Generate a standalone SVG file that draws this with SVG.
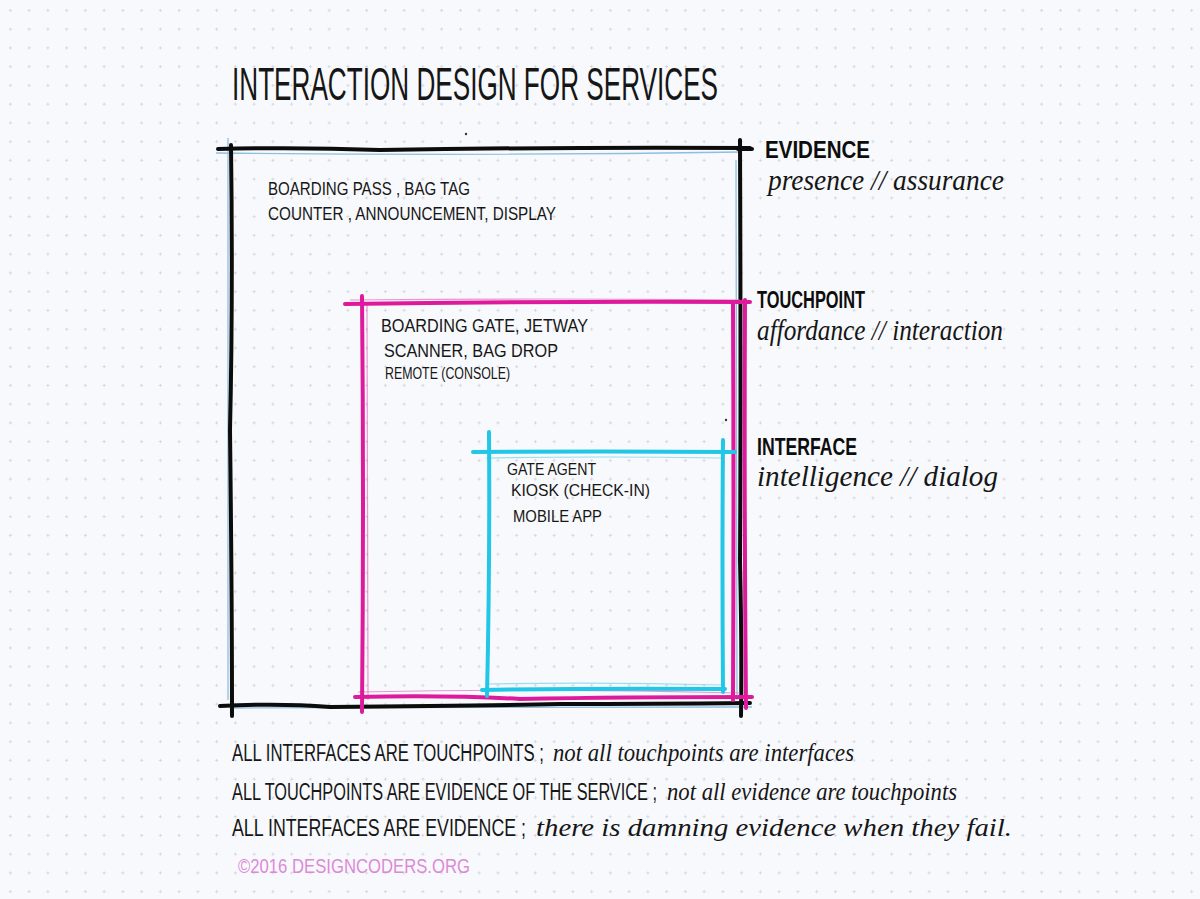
<svg xmlns="http://www.w3.org/2000/svg" width="1200" height="899" viewBox="0 0 1200 899">
<defs>
<pattern id="dots" x="1" y="1" width="18.75" height="18.75" patternUnits="userSpaceOnUse">
<path d="M9.4 7.8v3.2M7.8 9.4h3.2" stroke="#cfd3da" stroke-width="0.8"/>
</pattern>
<style>
.cap{font-family:"Liberation Sans",Arial,sans-serif;fill:#161616}
.scr{font-family:"Liberation Serif","Times New Roman",serif;font-style:italic;fill:#161616}
.lbl{font-family:"Liberation Sans",Arial,sans-serif;font-weight:bold;fill:#0d0d0d;font-size:23px}
.blk{fill:none;stroke:#0c0c0c;stroke-width:4;stroke-linecap:round}
.mag{fill:none;stroke:#de1a9c;stroke-width:4;stroke-linecap:round}
.magl{fill:none;stroke:#e36cc0;stroke-width:1.2;opacity:0.7}
.cyn{fill:none;stroke:#22c6e6;stroke-width:4;stroke-linecap:round}
.cynl{fill:none;stroke:#7fd8ec;stroke-width:1.2;opacity:0.8}
.blu{fill:none;stroke:#8dbfe0;stroke-width:1.3}
</style>
</defs>
<rect width="1200" height="899" fill="#f8f9fc"/>
<rect width="1200" height="899" fill="url(#dots)"/>

<text class="cap" x="232" y="100" font-size="46" textLength="486" lengthAdjust="spacingAndGlyphs">INTERACTION DESIGN FOR SERVICES</text>
<circle cx="466" cy="134" r="1.2" fill="#333"/>

<g id="connectors">
<path class="blu" d="M228 138 L228 700"/>
<path class="blu" d="M216 153 Q480 156 742 152"/>
<path class="blu" d="M230 708 L752 707"/>
<path class="blu" d="M736 160 L737 700"/>
</g>

<g id="evidence-box">
<path class="blk" d="M218 149 Q300 147 380 150 Q560 147 750 148"/>
<path class="blk" d="M231 145 Q233 300 230 430 Q232 600 232 716"/>
<path class="blk" d="M740 140 Q741 400 740 560 Q742 650 741 716"/>
<path class="blk" d="M220 706 Q280 703 330 707 Q480 706 560 704 Q650 704 750 703"/>
<text class="cap" x="268" y="195" font-size="19" textLength="202" lengthAdjust="spacingAndGlyphs">BOARDING PASS , BAG TAG</text>
<text class="cap" x="268" y="220" font-size="19" textLength="288" lengthAdjust="spacingAndGlyphs">COUNTER , ANNOUNCEMENT, DISPLAY</text>
</g>

<g id="touchpoint-box">
<path class="magl" d="M350 300 Q550 298 740 300"/>
<path class="magl" d="M367 305 L368 700"/>
<path class="magl" d="M358 692 Q550 688 740 693"/>
<path class="mag" d="M345 304 Q550 301 750 302"/>
<path class="mag" d="M362 296 Q364 500 362 712"/>
<path class="mag" d="M733 302 Q734 500 733 700"/>
<path class="mag" d="M745 300 Q744 500 746 708" stroke-width="2.2"/>
<path class="mag" d="M355 697 Q450 695 520 699 Q620 697 752 697"/>
<text class="cap" x="381" y="332" font-size="19" textLength="207" lengthAdjust="spacingAndGlyphs">BOARDING GATE, JETWAY</text>
<text class="cap" x="384" y="357" font-size="19" textLength="174" lengthAdjust="spacingAndGlyphs">SCANNER, BAG DROP</text>
<text class="cap" x="385" y="379" font-size="16" textLength="125" lengthAdjust="spacingAndGlyphs">REMOTE (CONSOLE)</text>
<circle cx="726" cy="420" r="1.2" fill="#333"/>
</g>

<g id="interface-box">
<path class="cynl" d="M486 458 Q600 456 722 458"/>
<path class="cynl" d="M485 684 Q600 682 722 685"/>
<path class="cyn" d="M473 452 Q600 451 735 452"/>
<path class="cyn" d="M489 432 Q490 560 487 696"/>
<path class="cyn" d="M723 440 Q722 560 723 692"/>
<path class="cyn" d="M482 690 Q600 688 725 689"/>
<text class="cap" x="507" y="475" font-size="17" textLength="89" lengthAdjust="spacingAndGlyphs">GATE AGENT</text>
<text class="cap" x="511" y="496" font-size="17" textLength="139" lengthAdjust="spacingAndGlyphs">KIOSK (CHECK-IN)</text>
<text class="cap" x="513" y="522" font-size="17" textLength="89" lengthAdjust="spacingAndGlyphs">MOBILE APP</text>
</g>

<g id="label-evidence">
<path class="blk" d="M738 149 L752 149" stroke-width="3"/>
<text class="lbl" x="765" y="158" textLength="105" lengthAdjust="spacingAndGlyphs">EVIDENCE</text>
<text class="scr" x="768" y="190" font-size="29" textLength="236" lengthAdjust="spacingAndGlyphs">presence // assurance</text>
</g>

<g id="label-touchpoint">
<text class="lbl" x="757" y="308" textLength="108" lengthAdjust="spacingAndGlyphs">TOUCHPOINT</text>
<text class="scr" x="757" y="340" font-size="29" textLength="246" lengthAdjust="spacingAndGlyphs">affordance // interaction</text>
</g>

<g id="label-interface">
<text class="lbl" x="757" y="455" textLength="100" lengthAdjust="spacingAndGlyphs">INTERFACE</text>
<text class="scr" x="757" y="486" font-size="29" textLength="241" lengthAdjust="spacingAndGlyphs">intelligence // dialog</text>
</g>

<g id="notes">
<text class="cap" transform="translate(232 761) scale(1 1.4)" x="0" y="0" font-size="17" textLength="312" lengthAdjust="spacingAndGlyphs">ALL INTERFACES ARE TOUCHPOINTS ;</text>
<text class="scr" x="553" y="761" font-size="25" textLength="301" lengthAdjust="spacingAndGlyphs">not all touchpoints are interfaces</text>
<text class="cap" transform="translate(232 800) scale(1 1.4)" x="0" y="0" font-size="17" textLength="425" lengthAdjust="spacingAndGlyphs">ALL TOUCHPOINTS ARE EVIDENCE OF THE SERVICE ;</text>
<text class="scr" x="667" y="800" font-size="25" textLength="290" lengthAdjust="spacingAndGlyphs">not all evidence are touchpoints</text>
<text class="cap" transform="translate(232 836) scale(1 1.4)" x="0" y="0" font-size="17" textLength="294" lengthAdjust="spacingAndGlyphs">ALL INTERFACES ARE EVIDENCE ;</text>
<text class="scr" x="536" y="836" font-size="26" textLength="476" lengthAdjust="spacingAndGlyphs">there is damning evidence when they fail.</text>
<text x="238" y="873" font-size="20" textLength="232" lengthAdjust="spacingAndGlyphs" style="font-family:'Liberation Sans',Arial,sans-serif;fill:#dc8ad8">©2016 DESIGNCODERS.ORG</text>
</g>
</svg>
